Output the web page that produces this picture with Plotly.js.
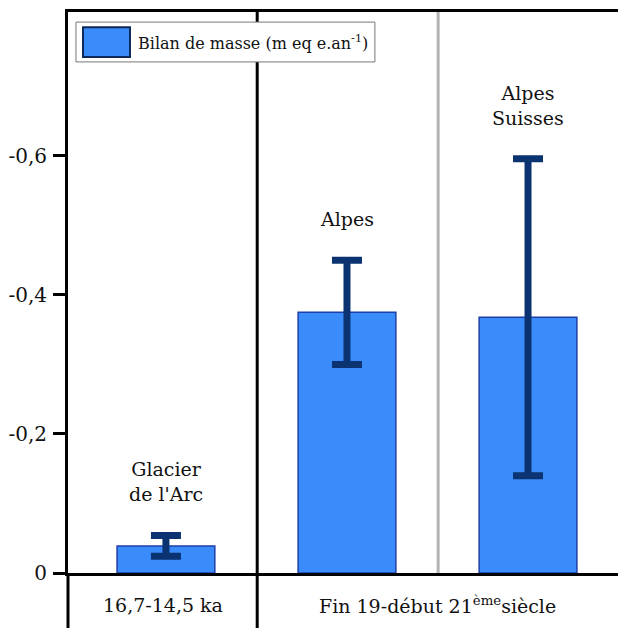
<!DOCTYPE html>
<html>
<head>
<meta charset="utf-8">
<script src="https://cdn.plot.ly/plotly-3.0.1.min.js"></script>
<style>html,body{margin:0;padding:0;background:#fff;}#chart{width:618px;height:628px;}</style>
</head>
<body>
<div id="chart"></div>
<script>
// Data
const categories = ["Glacier<br>de l'Arc", "Alpes", "Alpes<br>Suisses"];
const massBalance = [-0.039, -0.375, -0.368];
const errorValues = [0.015, 0.075, 0.228];
const yTickVals = [0, -0.2, -0.4, -0.6];
const yTickText = ["0", "-0,2", "-0,4", "-0,6"];
const periodLabels = ["16,7-14,5 ka", "Fin 19-début 21<sup>ème</sup>siècle"];
const legendLabel = "Bilan de masse (m eq e.an<sup>-1</sup>)";

const FONT = "DejaVu Serif";
const barColor = "#3b8cfb";
const errColor = "#0b3372";

const xIdx = categories.map((c, i) => i);

const trace = {
  type: "bar",
  x: xIdx,
  y: massBalance,
  width: 0.54,
  marker: {color: barColor, line: {color: "#1f3fa8", width: 1.5}},
  error_y: {type: "data", array: errorValues, visible: true, color: errColor, thickness: 7, width: 15},
  showlegend: false,
  hoverinfo: "skip"
};

const annotations = categories.map((c, i) => ({
  x: i, y: massBalance[i] - errorValues[i], xref: "x", yref: "y",
  text: c, showarrow: false, xanchor: "center", yanchor: "bottom", yshift: 28,
  font: {family: FONT, size: 19, color: "#111"}
}));
annotations.push(
  {x: 0.172, y: -0.057, xref: "paper", yref: "paper", text: periodLabels[0], showarrow: false,
   xanchor: "center", yanchor: "middle", font: {family: FONT, size: 19, color: "#111"}},
  {x: 0.672, y: -0.057, xref: "paper", yref: "paper", text: periodLabels[1], showarrow: false,
   xanchor: "center", yanchor: "middle", font: {family: FONT, size: 19, color: "#111"}},
  {x: 0.1236, y: 0.9465, xref: "paper", yref: "paper", text: legendLabel, showarrow: false,
   xanchor: "left", yanchor: "middle", font: {family: FONT, size: 16, color: "#111"}}
);

const shapes = [
  {type: "line", xref: "paper", yref: "paper", x0: 0, x1: 0, y0: 0, y1: -0.1, line: {color: "#000", width: 3}},
  {type: "line", xref: "paper", yref: "paper", x0: 0.673, x1: 0.673, y0: 0, y1: 1, line: {color: "#b3b3b3", width: 3}},
  {type: "line", xref: "paper", yref: "paper", x0: 0.344, x1: 0.344, y0: -0.1, y1: 1, line: {color: "#000", width: 3}},
  {type: "rect", xref: "paper", yref: "paper", x0: 0.0145, x1: 0.558, y0: 0.911, y1: 0.982,
   line: {color: "#777", width: 1}, fillcolor: "#fff"},
  {type: "rect", xref: "paper", yref: "paper", x0: 0.0273, x1: 0.1127, y0: 0.920, y1: 0.973,
   line: {color: "#0b2a5a", width: 2}, fillcolor: barColor}
];

const layout = {
  width: 618, height: 628,
  margin: {l: 68, r: 0, t: 12, b: 55},
  paper_bgcolor: "#fff", plot_bgcolor: "#fff",
  font: {family: FONT, size: 20, color: "#111"},
  xaxis: {range: [-0.541, 2.497], showline: true, mirror: true, linecolor: "#000", linewidth: 3,
          showgrid: false, zeroline: false, showticklabels: false, ticks: "", fixedrange: true},
  yaxis: {range: [0, -0.807], showline: true, linecolor: "#000", linewidth: 3, showgrid: false,
          zeroline: false, tickvals: yTickVals, ticktext: yTickText, ticks: "outside",
          ticklen: 12, tickwidth: 3, tickcolor: "#000", ticklabelstandoff: 2,
          tickfont: {family: FONT, size: 20, color: "#111"}},
  shapes: shapes,
  annotations: annotations,
  showlegend: false
};

Plotly.newPlot("chart", [trace], layout, {staticPlot: true, displayModeBar: false});
</script>
</body>
</html>
